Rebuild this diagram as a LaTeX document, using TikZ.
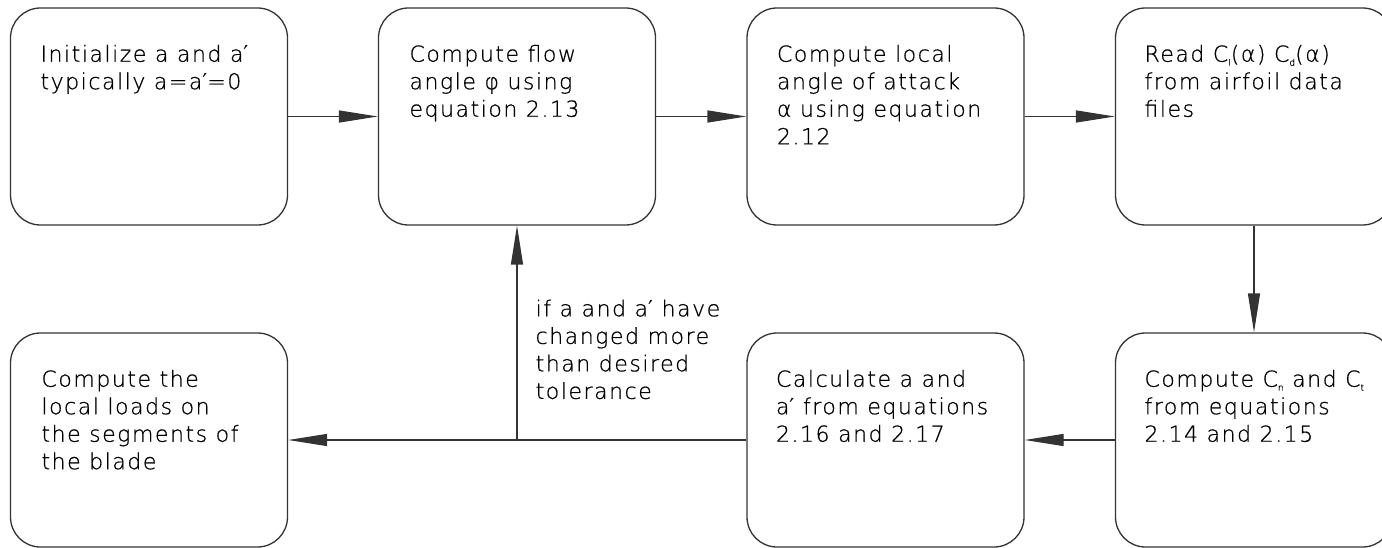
\documentclass[tikz,border=0pt]{standalone}
\usepackage{fontspec}
\setmainfont{DejaVu Sans ExtraLight}[LetterSpace=7,FakeBold=0.7]
\newfontfamily\primefont{DejaVu Sans}[LetterSpace=7]
\usetikzlibrary{arrows.meta,calc}
\newcommand{\sub}[1]{\raisebox{-0.18em}{\fontsize{9}{9}\selectfont #1}}
\newcommand{\pr}{{\primefont ′}}
\begin{document}
\begin{tikzpicture}[x=1pt,y=-1pt,
  line width=1.3pt,
  stepbox/.style={draw=black!80, rounded corners=30pt, minimum width=277pt, inner sep=0pt},
  toprow/.style={stepbox, minimum height=217pt},
  botrow/.style={stepbox, minimum height=214pt},
  txt/.style={anchor=north west, inner sep=0pt, align=left, text=black,
    font=\fontsize{22}{27.5}\selectfont},
  flow/.style={draw=black!80, -{Triangle[length=39pt,width=12pt]}}]
\useasboundingbox (0,0) rectangle (1382,548);
\begin{scope}
\clip (0,0) rectangle (1382,548);
% top row
\node[toprow] (init) at (149,116.5) {};
\node[toprow] (phi)  at (517,116.5) {};
\node[toprow] (aoa)  at (885.5,116.5) {};
\node[toprow] (read) at (1254,116.5) {};
% bottom row
\node[botrow] (loads) at (149,440) {};
\node[botrow] (calc)  at (885.5,440) {};
\node[botrow] (cnct)  at (1254,440) {};
\end{scope}
% box texts
\node[txt] (tinit) at ($(init.north west)+(30,37)$) {Initialize a and a\pr\\typically a=a\pr=0};
\node[txt] (tphi)  at ($(phi.north west)+(31,37)$) {Compute flow\\angle φ using\\equation 2.13};
\node[txt] (taoa)  at ($(aoa.north west)+(30,37)$) {Compute local\\angle of attack\\α using equation\\2.12};
\node[txt] (tread) at ($(read.north west)+(29,37)$) {Read C\sub{l}(α) C\sub{d}(α)\\from airfoil data\\files};
\node[txt] (tcnct) at ($(cnct.north west)+(29,37)$) {Compute C\sub{n} and C\sub{t}\\from equations\\2.14 and 2.15};
\node[txt] (tcalc) at ($(calc.north west)+(29,37)$) {Calculate a and\\a\pr{} from equations\\2.16 and 2.17};
\node[txt] (tloads) at ($(loads.north west)+(31,37)$) {Compute the\\local loads on\\the segments of\\the blade};
% connectors
\draw[flow] (init.east) -- (phi.west);
\draw[flow] (phi.east) -- (aoa.west);
\draw[flow] (aoa.east) -- (read.west);
\draw[flow] (read.south) -- (cnct.north);
\draw[flow] (cnct.west) -- (calc.east);
\draw[flow] (calc.west) -- (loads.east);
\coordinate (fb) at (phi.south |- calc.west);
\draw[flow] (fb) -- (phi.south);
\node[txt] (tfb) at ($(fb)+(18,-141)$) {if a and a\pr{} have\\changed more\\than desired\\tolerance};
\end{tikzpicture}
\end{document}
